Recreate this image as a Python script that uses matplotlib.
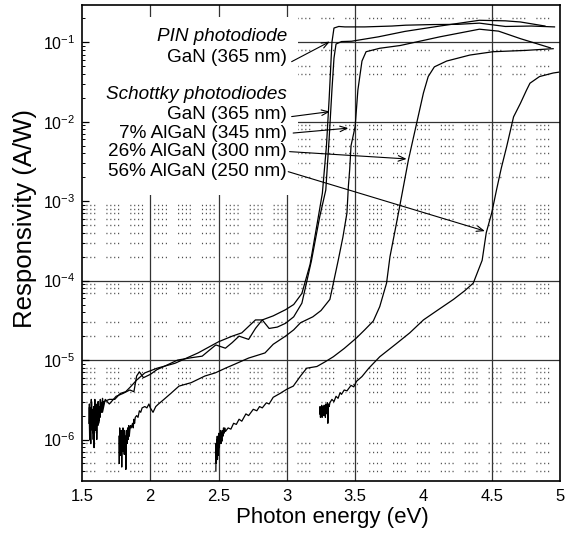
import matplotlib
matplotlib.use("Agg")
import matplotlib.pyplot as plt
from matplotlib.patches import Rectangle
from matplotlib.ticker import FixedLocator, LogLocator, NullFormatter

plt.rcParams["font.family"] = ["Liberation Sans", "DejaVu Sans"]
plt.rcParams["mathtext.fontset"] = "custom"
plt.rcParams["mathtext.rm"] = "Liberation Sans"
plt.rcParams["mathtext.it"] = "Liberation Sans:italic"
plt.rcParams["mathtext.default"] = "regular"
plt.rcParams["lines.scale_dashes"] = False

# 1. Datos (energia en eV, responsividad en A/W)
gan_pin_x = [1.550, 1.554, 1.558, 1.562, 1.566, 1.570, 1.574, 1.578, 1.582, 1.586,
             1.590, 1.594, 1.598, 1.602, 1.606, 1.610, 1.614, 1.618, 1.622, 1.626,
             1.630, 1.634, 1.638, 1.642, 1.646, 1.650, 1.655, 1.66,
             1.7, 1.74, 1.78, 1.82, 1.86,
             1.9, 1.96, 2.05, 2.18, 2.35, 2.5, 2.6, 2.67, 2.77, 2.82,
             2.9, 2.99, 3.05, 3.11, 3.17, 3.22, 3.26, 3.29, 3.31, 3.33,
             3.345, 3.38, 3.425, 3.57, 3.77, 3.87, 4.07, 4.25, 4.41, 4.6,
             4.79, 4.96]
gan_pin_y = [1.6e-6, 2.8e-6, 1.1e-6, 2.5e-6, 1.5e-6, 3.0e-6, 1.3e-6, 2.2e-6, 1.0e-6, 2.6e-6,
             1.8e-6, 3.2e-6, 1.4e-6, 2.5e-6, 1.2e-6, 2.8e-6, 1.9e-6, 3.0e-6, 1.6e-6, 2.4e-6,
             2.0e-6, 3.2e-6, 2.2e-6, 2.9e-6, 2.3e-6, 3.3e-6, 2.6e-6, 3.0e-6,
             3.2e-6, 3.2e-6, 3.8e-6, 4.0e-6, 4.7e-6,
             5.6e-6, 6.9e-6, 7.9e-6, 9.1e-6, 1.23e-5, 1.7e-5, 2.0e-5, 2.2e-5, 3.2e-5, 3.2e-5,
             3.6e-5, 4.3e-5, 5.0e-5, 6.9e-5, 1.6e-4, 5.0e-4, 1.26e-3, 5.0e-3, 2.0e-2, 0.10,
             0.151, 0.158, 0.156, 0.156, 0.160, 0.164, 0.167, 0.168, 0.174, 0.158,
             0.160, 0.156]

gan_sch_x = [1.552, 1.556, 1.56, 1.564, 1.568, 1.572, 1.576, 1.58, 1.584, 1.588,
             1.592, 1.596, 1.60, 1.604, 1.608, 1.612, 1.616, 1.62, 1.624, 1.628,
             1.632, 1.636, 1.64, 1.645, 1.65,
             1.67, 1.7, 1.75, 1.8, 1.85,
             1.88, 1.9, 1.92, 1.95, 2.0, 2.05, 2.1, 2.2, 2.3, 2.38,
             2.43, 2.48, 2.55, 2.6, 2.65, 2.72, 2.77, 2.82, 2.87, 2.93,
             2.99, 3.05, 3.11, 3.18, 3.24, 3.285, 3.31, 3.33, 3.345, 3.36,
             3.40, 3.474, 3.67, 3.865, 4.12, 4.41, 4.6, 4.71, 4.89]
gan_sch_y = [2.5e-6, 1.0e-6, 2.0e-6, 8.9e-7, 3.2e-6, 1.6e-6, 2.4e-6, 1.2e-6, 2.2e-6, 7.9e-7,
             1.8e-6, 2.8e-6, 1.3e-6, 2.5e-6, 1.0e-6, 2.2e-6, 1.5e-6, 3.0e-6, 1.7e-6, 2.6e-6,
             1.9e-6, 3.1e-6, 2.2e-6, 2.8e-6, 2.2e-6,
             3.2e-6, 2.8e-6, 3.5e-6, 3.8e-6, 4.2e-6,
             4.0e-6, 6.3e-6, 7.1e-6, 6.0e-6, 6.6e-6, 7.6e-6, 8.3e-6, 1.0e-5, 1.07e-5, 1.12e-5,
             1.32e-5, 1.55e-5, 1.41e-5, 1.66e-5, 2.0e-5, 1.82e-5, 2.5e-5, 3.2e-5, 2.5e-5, 2.6e-5,
             2.9e-5, 3.5e-5, 5.2e-5, 1.78e-4, 6.3e-4, 1.38e-3, 6.3e-3, 2.5e-2, 6.3e-2, 9.5e-2,
             0.102, 0.103, 0.117, 0.137, 0.160, 0.189, 0.186, 0.18, 0.16]

algan7_x = [1.770, 1.773, 1.776, 1.779, 1.782, 1.785, 1.788, 1.791, 1.794, 1.797,
            1.800, 1.803, 1.806, 1.809, 1.812, 1.815, 1.818, 1.821, 1.824, 1.827,
            1.830, 1.834, 1.838, 1.842, 1.846, 1.850, 1.855, 1.86,
            1.87, 1.875, 1.88, 1.885, 1.89, 1.9, 1.91, 1.92, 1.93, 1.94,
            1.96, 1.975, 1.99, 2.0, 2.02, 2.04, 2.06, 2.1, 2.15, 2.21,
            2.3, 2.4, 2.476, 2.55, 2.62,
            2.72, 2.8, 2.84, 2.9, 2.99, 3.05, 3.1, 3.19, 3.25, 3.315,
            3.376, 3.41, 3.44, 3.45, 3.46, 3.47, 3.5, 3.52, 3.55, 3.58,
            3.68, 3.83, 4.12, 4.41, 4.55, 4.71, 4.93]
algan7_y = [1.1e-6, 5.0e-7, 1.4e-6, 6.3e-7, 1.2e-6, 8.0e-7, 1.3e-6, 4.5e-7, 1.1e-6, 7.1e-7,
            1.4e-6, 8.5e-7, 1.2e-6, 6.5e-7, 1.3e-6, 7.9e-7, 1.1e-6, 4.2e-7, 9.5e-7, 1.3e-6,
            8.9e-7, 1.4e-6, 1.0e-6, 1.5e-6, 1.1e-6, 1.3e-6, 1.5e-6, 1.4e-6,
            1.6e-6, 1.4e-6, 1.8e-6, 1.6e-6, 1.9e-6, 2.0e-6, 1.9e-6, 2.3e-6, 2.2e-6, 2.5e-6,
            2.6e-6, 2.5e-6, 2.8e-6, 2.5e-6, 2.2e-6, 2.6e-6, 2.8e-6, 3.2e-6, 3.8e-6, 4.7e-6,
            5.2e-6, 6.3e-6, 6.9e-6, 7.9e-6, 8.9e-6,
            1.06e-5, 1.17e-5, 1.23e-5, 1.58e-5, 2.0e-5, 2.4e-5, 2.95e-5, 3.5e-5, 4.2e-5, 5.8e-5,
            1.8e-4, 3.5e-4, 7.1e-4, 1.5e-3, 2.5e-3, 5.0e-3, 8.7e-3, 2.5e-2, 5.8e-2, 7.6e-2,
            8.4e-2, 9.1e-2, 0.117, 0.146, 0.138, 0.111, 0.085]

algan26_x = [2.480, 2.482, 2.484, 2.486, 2.488, 2.490, 2.492, 2.494, 2.496, 2.498,
             2.500, 2.503, 2.506, 2.509, 2.512, 2.515, 2.518, 2.521, 2.524, 2.528,
             2.532, 2.536, 2.54, 2.545, 2.55,
             2.57, 2.59, 2.61, 2.63, 2.65, 2.67, 2.7, 2.72, 2.754, 2.78,
             2.8, 2.82, 2.85, 2.87, 2.9, 2.95, 3.0, 3.047, 3.1, 3.145, 3.22,
             3.28, 3.34, 3.42, 3.51, 3.57, 3.633, 3.68, 3.73, 3.755, 3.8,
             3.83, 3.89, 3.95, 4.0, 4.035, 4.08, 4.17, 4.34, 4.51, 4.75,
             4.95]
algan26_y = [4.0e-7, 9.0e-7, 5.0e-7, 1.0e-6, 6.0e-7, 1.1e-6, 5.6e-7, 9.5e-7, 6.3e-7, 1.1e-6,
             7.5e-7, 1.2e-6, 8.0e-7, 1.1e-6, 9.0e-7, 1.3e-6, 8.9e-7, 1.2e-6, 9.5e-7, 1.3e-6,
             1.1e-6, 1.4e-6, 1.2e-6, 1.4e-6, 1.26e-6,
             1.4e-6, 1.35e-6, 1.6e-6, 1.55e-6, 1.8e-6, 1.7e-6, 2.1e-6, 2.0e-6, 2.4e-6, 2.3e-6,
             2.6e-6, 2.5e-6, 2.9e-6, 2.8e-6, 3.4e-6, 3.8e-6, 4.3e-6, 4.7e-6, 6.3e-6, 7.9e-6, 8.3e-6,
             9.5e-6, 1.1e-5, 1.4e-5, 1.9e-5, 2.4e-5, 3.1e-5, 4.7e-5, 9.3e-5, 2.0e-4, 5.0e-4,
             9.3e-4, 3.3e-3, 9.5e-3, 2.3e-2, 3.7e-2, 4.9e-2, 5.8e-2, 6.9e-2, 7.6e-2, 7.9e-2,
             8.3e-2]

algan56_x = [3.240, 3.243, 3.246, 3.249, 3.252, 3.255, 3.258, 3.261, 3.264, 3.267,
             3.270, 3.273, 3.276, 3.279, 3.282, 3.285, 3.288, 3.291, 3.294, 3.297,
             3.300, 3.305, 3.31, 3.315, 3.32, 3.33,
             3.345, 3.36, 3.375, 3.39, 3.4, 3.42, 3.44, 3.47, 3.49, 3.51, 3.55, 3.6,
             3.68, 3.8, 3.9, 4.0, 4.1, 4.22, 4.3, 4.365, 4.43, 4.46, 4.5, 4.535,
             4.57, 4.61, 4.66, 4.71, 4.755, 4.78, 4.85, 4.95, 4.99]
algan56_y = [2.1e-6, 2.6e-6, 1.9e-6, 2.4e-6, 2.0e-6, 2.7e-6, 1.9e-6, 2.5e-6, 2.1e-6, 2.6e-6,
             2.0e-6, 2.7e-6, 2.2e-6, 2.5e-6, 1.9e-6, 2.8e-6, 2.3e-6, 2.6e-6, 2.1e-6, 2.9e-6,
             1.6e-6, 2.8e-6, 2.6e-6, 2.9e-6, 3.0e-6, 3.2e-6,
             3.0e-6, 3.5e-6, 3.3e-6, 3.9e-6, 3.7e-6, 4.2e-6, 4.1e-6, 4.8e-6, 4.6e-6, 5.4e-6, 6.2e-6, 7.9e-6,
             1.1e-5, 1.6e-5, 2.2e-5, 3.2e-5, 4.2e-5, 5.8e-5, 7.4e-5, 9.3e-5, 1.8e-4, 4.0e-4, 7.1e-4, 1.38e-3,
             2.6e-3, 4.9e-3, 1.15e-2, 1.7e-2, 2.5e-2, 3.05e-2, 3.7e-2, 4.1e-2, 4.2e-2]

curvas = [(gan_pin_x, gan_pin_y), (gan_sch_x, gan_sch_y), (algan7_x, algan7_y),
          (algan26_x, algan26_y), (algan56_x, algan56_y)]

# Etiquetas y flechas (texto, y del texto, inicio y fin de la flecha)
etiquetas = ["PIN photodiode", "GaN (365 nm)", "Schottky photodiodes",
             "GaN (365 nm)", "7% AlGaN (345 nm)", "26% AlGaN (300 nm)",
             "56% AlGaN (250 nm)"]
etiqueta_y = [0.117, 0.0635, 0.0217, 0.0122, 7.2e-3, 4.2e-3, 2.35e-3]
etiqueta_italica = [True, False, True, False, False, False, False]
flecha_desde = [(3.035, 0.057), (3.035, 0.0116), (3.046, 7.2e-3),
                (3.02, 4.2e-3), (3.01, 2.35e-3)]
flecha_hasta = [(3.315, 0.102), (3.315, 0.0134), (3.45, 8.3e-3),
                (3.877, 3.4e-3), (4.45, 4.2e-4)]

# Rejilla tal como aparece en la figura escaneada
rejilla_x = [2.0, 2.5, 3.0, 3.5, 4.5]
rejilla_y = [1e-1, 1e-2, 1e-4, 1e-5]
rejilla_menor_y = [0.2, 0.08, 0.05, 0.04,
                   9e-3, 8e-3, 6e-3, 5e-3, 4e-3, 3e-3, 2e-3,
                   9e-4, 8e-4, 7e-4, 6e-4, 5e-4, 4e-4, 3e-4, 2e-4,
                   9e-5, 8e-5, 7e-5, 3e-5, 2e-5,
                   8e-6, 7e-6, 6e-6, 5e-6, 4e-6, 3e-6,
                   9e-7, 7e-7, 5e-7, 4e-7]
xticks = [1.5, 2, 2.5, 3, 3.5, 4, 4.5, 5]
xtick_labels = ["1.5", "2", "2.5", "3", "3.5", "4", "4.5", "5"]

# 2. Grafica
fig = plt.figure(figsize=(5.68, 5.33), dpi=100)
ax = fig.add_axes([0.1444, 0.0981, 0.8415, 0.8931])
ax.set_yscale("log")
ax.set_xlim(1.5, 5.0)
ax.set_ylim(3.03e-7, 0.297)

for v in rejilla_x:
    ax.axvline(v, color="0.2", lw=0.9, zorder=1)
for v in rejilla_y:
    ax.axhline(v, color="0.2", lw=0.9, zorder=1)
for v in rejilla_menor_y:
    ax.axhline(v, color="0.3", lw=1.0, zorder=1,
               linestyle=(0, (0.8, 2.0, 0.8, 2.0, 0.8, 2.0, 0.8, 8.0)))

# zona en blanco detras de las etiquetas
ax.add_patch(Rectangle((1.5, 1.2e-3), 1.58, 0.21 - 1.2e-3, facecolor="white",
                       edgecolor="none", zorder=1.5))

for x, y in curvas:
    ax.plot(x, y, color="black", lw=0.9, zorder=2)

for texto, y, ital in zip(etiquetas, etiqueta_y, etiqueta_italica):
    ax.text(3.0, y, texto, ha="right", va="center", fontsize=13.6,
            style="italic" if ital else "normal", zorder=3)

for a, b in zip(flecha_desde, flecha_hasta):
    ax.annotate("", xy=b, xytext=a, zorder=3,
                arrowprops=dict(arrowstyle="->,head_length=0.5,head_width=0.2",
                                color="black", lw=0.8, shrinkA=0, shrinkB=0))

ax.set_xticks(xticks)
ax.set_xticklabels(xtick_labels)
ax.tick_params(axis="x", length=0, labelsize=12, pad=6)
ax.yaxis.set_major_locator(FixedLocator([1e-6, 1e-5, 1e-4, 1e-3, 1e-2, 1e-1]))
ax.set_yticklabels([r"$10^{-6}$", r"$10^{-5}$", r"$10^{-4}$", r"$10^{-3}$",
                    r"$10^{-2}$", r"$10^{-1}$"])
ax.yaxis.set_minor_locator(LogLocator(base=10, subs=range(2, 10)))
ax.yaxis.set_minor_formatter(NullFormatter())
ax.tick_params(axis="y", which="major", direction="in", length=5, width=0.9,
               labelsize=11.5, pad=5)
ax.tick_params(axis="y", which="minor", direction="in", length=2.5, width=0.7)

for s in ax.spines.values():
    s.set_linewidth(1.2)
    s.set_zorder(4)

fig.text(332 / 568, 1 - 517 / 533, "Photon energy (eV)", ha="center",
         va="center", fontsize=16)
fig.text(25 / 568, 1 - 219 / 533, "Responsivity (A/W)", ha="center",
         va="center", rotation=90, fontsize=18.5)

fig.savefig("out.png", dpi=100)
